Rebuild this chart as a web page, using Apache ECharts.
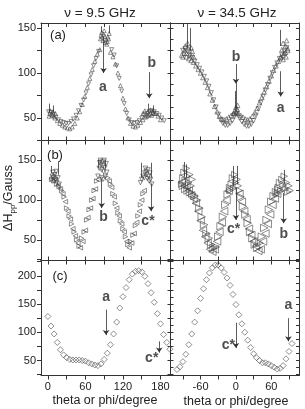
<!DOCTYPE html>
<html>
<head>
<meta charset="utf-8">
<script src="https://cdn.jsdelivr.net/npm/echarts@6/dist/echarts.min.js"></script>
<style>
html, body { margin: 0; padding: 0; background: #fff; }
#main { width: 305px; height: 409px; }
</style>
</head>
<body>
<div id="main"></div>
<script>
// tick positions / labels
const leftTicks = [0, 30, 60, 90, 120, 150, 180]
const leftLabels = [0, 60, 120, 180]
const rightTicks = [-90, -60, -30, 0, 30, 60, 90]
const rightLabels = [-60, 0, 60]
const yTicksAB = [25, 50, 75, 100, 125, 150, 175]
const yTicksC = [25, 50, 75, 100, 125, 150, 175, 200, 225]
const yLabelsAB = [50, 100, 150]
const yLabelsC = [50, 100, 150, 200]
const yTicksRight = [25, 37.5, 50, 62.5, 75, 87.5, 100, 112.5, 125, 137.5, 150, 162.5, 175, 187.5, 200, 212.5, 225]

// (a) 9.5 GHz
const a9Up = [[3,55],[7,53],[11,50],[15,47],[19,44],[23,42],[27,40],[31,39],[35,38],[39,40],[43,44],[47,50],[51,57],[55,65],[59,74],[63,84],[67,94],[71,104],[75,113],[79,121],[83,126],[100,123],[104,118],[108,110],[112,100],[116,86],[120,72],[124,60],[128,50],[132,44],[136,41],[140,40],[144,42],[148,45],[152,48],[156,51],[160,53],[164,55],[168,56],[172,55],[176,52],[180,48]]
const a9Down = [[1,57],[5,56],[9,54],[13,51],[17,48],[21,46],[25,45],[29,44],[33,44],[37,46],[41,49],[45,53],[49,58],[53,64],[57,70],[61,78],[65,88],[69,98],[73,108],[77,116],[81,124],[102,126],[106,120],[110,108],[114,94],[118,80],[122,66],[126,55],[130,48],[134,45],[138,44],[142,45],[146,47],[150,50],[154,53],[158,55],[162,57],[166,58],[170,57],[174,55],[178,53],[182,50],[186,47]]
const a9Cluster = [[84,138],[85,142],[86,145],[87,140],[88,136],[89,143],[90,147],[91,141],[92,134],[93,137],[94,132],[95,135],[96,140],[97,138],[98,144],[2,52],[4,58],[6,54],[8,57],[10,52],[12,55],[152,55],[155,58],[158,52],[160,57],[162,54],[164,59],[166,53],[168,58],[170,55]]
const a9Spikes = [[2,56,66],[9,56,64],[86,145,152],[98,144,153],[161,58,66],[168,57,64]]
const a9Arrows = [[89,140,100],[162,101,72]]
const a9Notes = [[88,84,'a'],[166,111,'b']]

// (a) 34.5 GHz
const a34Up = [[-92,120],[-88,122],[-84,118],[-80,116],[-76,114],[-72,112],[-68,108],[-64,104],[-60,100],[-56,95],[-52,90],[-48,84],[-44,77],[-40,70],[-36,63],[-32,57],[-28,52],[-24,49],[-20,48],[-16,49],[-12,51],[-8,53],[-4,55],[0,57],[4,55],[8,53],[12,51],[16,49],[20,48],[24,49],[28,52],[32,56],[36,61],[40,67],[44,73],[48,79],[52,85],[56,91],[60,97],[64,103],[68,108],[72,113],[76,117],[80,120],[84,123],[88,125]]
const a34Down = [[-90,125],[-86,127],[-82,124],[-78,120],[-74,117],[-70,113],[-66,109],[-62,105],[-58,101],[-54,96],[-50,91],[-46,85],[-42,78],[-38,70],[-34,62],[-30,54],[-26,48],[-22,44],[-18,42],[-14,42],[-10,44],[-6,47],[-2,52],[2,55],[6,50],[10,46],[14,43],[18,41],[22,41],[26,43],[30,47],[34,53],[38,60],[42,67],[46,74],[50,81],[54,87],[58,94],[62,100],[66,106],[70,111],[74,116],[78,120],[82,124],[86,128]]
const a34Cluster = [[-90,118],[-88,125],[-86,130],[-84,122],[-82,133],[-80,127],[-78,120],[-76,128],[-74,124],[-72,118],[-2,58],[0,62],[1,56],[2,60],[3,64],[-4,55],[76,118],[78,126],[80,133],[82,122],[84,130],[86,136],[88,127],[85,118],[80,115]]
const a34Spikes = [[-82,128,155],[-78,125,150],[1,60,88],[-2,60,80],[76,130,148]]
const a34Arrows = [[0,110,88],[76,102,74]]
const a34Notes = [[0,118,'b'],[76,61,'a']]

// (b) 9.5 GHz
const b9Right = [[6,126],[10,124],[14,120],[18,117],[22,112],[26,104],[30,90],[34,80],[38,70],[42,60],[46,50],[50,42],[54,52],[58,60],[62,75],[66,88],[70,100],[74,112],[78,124],[96,128],[100,120],[104,108],[108,96],[112,84],[116,74],[120,64],[124,54],[128,44],[132,48],[136,56],[140,68],[144,80],[148,94],[152,108]]
const b9Left = [[8,130],[12,126],[16,118],[20,114],[24,108],[28,98],[32,86],[36,76],[40,64],[44,55],[48,46],[52,40],[56,48],[60,62],[64,78],[68,90],[72,102],[76,114],[80,126],[98,124],[102,116],[106,104],[110,90],[114,80],[118,70],[122,60],[126,48],[130,40],[134,46],[138,58],[142,72],[146,86],[150,100],[154,112]]
const b9Cluster = [[6,125],[7,130],[8,135],[9,128],[10,124],[11,132],[12,126],[13,136],[14,122],[16,128],[18,120],[80,130],[82,140],[83,147],[84,150],[85,145],[86,138],[87,148],[88,143],[89,136],[90,150],[91,141],[92,130],[93,146],[94,135],[88,126],[86,128],[148,122],[150,126],[152,130],[154,128],[155,134],[156,140],[157,136],[158,132],[159,127],[160,138],[161,130],[162,124],[163,134],[164,126],[166,120]]
const b9Spikes = [[6,134,143],[17,132,149],[80,140,151],[91,140,151],[149,128,147],[165,128,147]]
const b9Arrows = [[86,126,90],[165,121,86]]
const b9Notes = [[89,79,'b'],[160,73,'c*']]

// (b) 34.5 GHz
const b34Right = [[-90,118],[-86,114],[-82,112],[-78,110],[-74,108],[-70,105],[-66,100],[-62,90],[-58,79],[-54,69],[-50,58],[-46,52],[-42,44],[-38,40],[-34,41],[-30,54],[-26,67],[-22,79],[-18,94],[-14,107],[-10,115],[8,104],[12,92],[16,82],[20,71],[24,60],[28,52],[32,44],[36,40],[40,46],[44,54],[48,65],[52,75],[56,88],[60,98],[64,105],[68,110],[72,113]]
const b34Left = [[-92,122],[-88,118],[-84,116],[-80,112],[-76,106],[-72,102],[-68,96],[-64,86],[-60,74],[-56,62],[-52,54],[-48,46],[-44,38],[-40,35],[-36,38],[-32,48],[-28,60],[-24,72],[-20,86],[-16,100],[-12,112],[6,108],[10,98],[14,86],[18,76],[22,64],[26,56],[30,48],[34,42],[38,36],[42,38],[46,48],[50,58],[54,70],[58,82],[62,94],[66,102],[70,108]]
const b34Cluster = [[-92,120],[-90,128],[-88,135],[-86,125],[-84,140],[-82,130],[-80,122],[-78,132],[-76,118],[-74,126],[-10,112],[-8,120],[-6,128],[-4,115],[-2,132],[0,122],[2,126],[4,118],[6,112],[70,108],[72,116],[74,122],[76,112],[78,126],[80,118],[82,130],[84,114],[86,122],[88,110],[90,118],[92,112]]
const b34Spikes = [[-88,130,148],[-84,128,145],[-4,118,143],[2,120,143],[82,120,138]]
const b34Arrows = [[0,115,75],[81,109,71]]
const b34Notes = [[-4,64,'c*'],[81,57,'b']]

// (c) 9.5 GHz
const c9 = [[0,128],[5,111],[10,97],[15,82],[20,69],[25,60],[30,55],[35,52],[40,51],[45,51],[50,51],[55,50],[60,49],[65,46],[70,44],[75,42],[80,41],[85,44],[90,52],[95,63],[100,78],[105,97],[110,118],[115,143],[120,163],[125,179],[130,193],[135,203],[140,208],[145,209],[150,207],[155,199],[160,186],[165,170],[170,153],[175,133],[180,115],[185,96],[190,82],[195,70]]
const c9Arrows = [[93,140,95],[178,84,64]]
const c9Notes = [[93,162,'a'],[166,55,'c*']]

// (c) 34.5 GHz
const c34 = [[-100,34],[-95,39],[-90,48],[-85,61],[-80,78],[-75,97],[-70,118],[-65,138],[-60,160],[-55,177],[-50,193],[-45,205],[-40,214],[-35,219],[-30,219],[-25,214],[-20,206],[-15,196],[-10,183],[-5,167],[0,149],[5,131],[10,115],[15,100],[20,86],[25,73],[30,62],[35,55],[40,50],[45,46],[50,46],[55,44],[60,41],[65,38],[70,35],[75,36],[80,41],[85,53],[90,66],[95,80]]
const c34Arrows = [[0,117,72],[89,125,84]]
const c34Notes = [[-13,78,'c*'],[89,148,'a']]

const font = 'Liberation Sans, Arial, sans-serif'
const ink = '#333'

const cols = [{ left: 41, right: 134.5, range: [-11, 196], ticks: leftTicks, labels: leftLabels },
	{ left: 170.5, right: 6, range: [-111, 107], ticks: rightTicks, labels: rightLabels }]
const rows = [{ top: 23, bottom: 268.5, range: [25, 155.6], ticks: yTicksAB, labels: yLabelsAB },
	{ top: 140.5, bottom: 148.5, range: [24, 175], ticks: yTicksAB, labels: yLabelsAB },
	{ top: 260.5, bottom: 33.5, range: [23.5, 227], ticks: yTicksC, labels: yLabelsC }]

const panels = [
	{ r: 0, c: 0, sets: [[a9Up, 'triangle', 0, 4], [a9Down, 'triangle', 180, 4], [a9Cluster, 'triangle', 0, 4]], spikes: a9Spikes, arrows: a9Arrows, notes: a9Notes },
	{ r: 0, c: 1, sets: [[a34Up, 'triangle', 0, 4.5], [a34Down, 'triangle', 180, 4.5], [a34Cluster, 'triangle', 0, 4.5]], spikes: a34Spikes, arrows: a34Arrows, notes: a34Notes },
	{ r: 1, c: 0, sets: [[b9Right, 'triangle', -90, 4.5], [b9Left, 'triangle', 90, 4.5], [b9Cluster, 'triangle', 180, 4.5]], spikes: b9Spikes, arrows: b9Arrows, notes: b9Notes },
	{ r: 1, c: 1, sets: [[b34Right, 'triangle', -90, 7.5], [b34Left, 'triangle', 90, 7.5], [b34Cluster, 'triangle', -90, 6.5]], spikes: b34Spikes, arrows: b34Arrows, notes: b34Notes },
	{ r: 2, c: 0, sets: [[c9, 'diamond', 0, 6]], spikes: [], arrows: c9Arrows, notes: c9Notes },
	{ r: 2, c: 1, sets: [[c34, 'diamond', 0, 6]], spikes: [], arrows: c34Arrows, notes: c34Notes }
]

const grid = [], xAxis = [], yAxis = [], series = []
panels.forEach(function(p, i) {
	const col = cols[p.c], row = rows[p.r]
	grid.push({ left: col.left, right: col.right, top: row.top, bottom: row.bottom })
	const lastRow = p.r === 2
	// bottom and top x axes
	xAxis.push({
		type: 'value', gridIndex: i, position: 'bottom', min: col.range[0], max: col.range[1],
		axisLine: { show: true, onZero: false, lineStyle: { color: ink, width: 1 } },
		axisTick: { show: true, inside: !lastRow, length: 4, customValues: col.ticks, lineStyle: { color: ink } },
		axisLabel: { show: lastRow, customValues: col.labels, color: '#222', fontSize: 11, fontFamily: font, margin: 6 },
		splitLine: { show: false }
	})
	xAxis.push({
		type: 'value', gridIndex: i, position: 'top', min: col.range[0], max: col.range[1],
		axisLine: { show: true, onZero: false, lineStyle: { color: ink, width: 1 } },
		axisTick: { show: true, inside: true, length: 4, customValues: col.ticks, lineStyle: { color: ink } },
		axisLabel: { show: false },
		splitLine: { show: false }
	})
	yAxis.push({
		type: 'value', gridIndex: i, position: 'left', min: row.range[0], max: row.range[1],
		axisLine: { show: true, onZero: false, lineStyle: { color: ink, width: 1 } },
		axisTick: { show: true, inside: p.c === 1, length: p.c === 1 ? 3 : 4, customValues: p.c === 1 ? yTicksRight : row.ticks, lineStyle: { color: ink } },
		axisLabel: { show: p.c === 0, customValues: row.labels, color: '#222', fontSize: 11, fontFamily: font, margin: 5 },
		splitLine: { show: false }
	})
	yAxis.push({
		type: 'value', gridIndex: i, position: 'right', min: row.range[0], max: row.range[1],
		axisLine: { show: true, onZero: false, lineStyle: { color: ink, width: 1 } },
		axisTick: { show: true, inside: true, length: 3, customValues: p.c === 1 ? yTicksRight : row.ticks, lineStyle: { color: ink } },
		axisLabel: { show: false },
		splitLine: { show: false }
	})
	p.sets.forEach(function(s) {
		series.push({
			type: 'scatter', xAxisIndex: 2 * i, yAxisIndex: 2 * i,
			data: s[0], symbol: s[1], symbolRotate: s[2], symbolSize: s[3],
			itemStyle: { color: 'rgba(255,255,255,0)', borderColor: '#444', borderWidth: 0.75 },
			silent: true
		})
	})
	// arrows, spikes and letters
	const lines = []
	p.spikes.forEach(function(s) {
		lines.push([{ coord: [s[0], s[1]], symbol: 'none' }, { coord: [s[0], s[2]], symbol: 'none' }])
	})
	p.arrows.forEach(function(s) {
		lines.push([{ coord: [s[0], s[1]], symbol: 'none' }, { coord: [s[0], s[2]], symbol: 'arrow', symbolSize: 5 }])
	})
	series.push({
		type: 'scatter', xAxisIndex: 2 * i, yAxisIndex: 2 * i, symbolSize: 0, silent: true,
		data: p.notes.map(function(n) { return { value: [n[0], n[1]], name: n[2] } }),
		label: { show: true, position: 'inside', formatter: '{b}', fontSize: 14, fontWeight: 'bold', color: '#222', fontFamily: font },
		markLine: {
			silent: true, animation: false, symbol: ['none', 'none'],
			label: { show: false },
			lineStyle: { color: '#333', width: 0.8, type: 'solid' },
			data: lines
		}
	})
})

const txt = function(x, y, text, size) {
	return { type: 'text', x: x, y: y, style: { text: text, font: size + 'px ' + font, fill: '#222', align: 'center', verticalAlign: 'middle' } }
}

var myChart = echarts.init(document.getElementById('main'))
myChart.setOption({
	animation: false,
	backgroundColor: '#fff',
	grid: grid,
	xAxis: xAxis,
	yAxis: yAxis,
	series: series,
	graphic: [
		txt(100, 13, 'ν = 9.5 GHz', 13.5),
		txt(237, 13, 'ν = 34.5 GHz', 13.5),
		txt(58, 35, '(a)', 13),
		txt(55, 155, '(b)', 13),
		txt(60, 276, '(c)', 13),
		txt(105, 401, 'theta or phi/degree', 12.5),
		txt(236, 402, 'theta or phi/degree', 12.5),
		{
			type: 'text', x: 9, y: 198, rotation: Math.PI / 2,
			style: {
				text: '{a|ΔH}{s|pp}{a|/Gauss}', align: 'center', verticalAlign: 'middle',
				rich: {
					a: { fontSize: 12.5, fontFamily: font, fill: '#222', lineHeight: 16 },
					s: { fontSize: 8, fontFamily: font, fill: '#222', lineHeight: 16, verticalAlign: 'bottom', padding: [5, 0, 0, 0] }
				}
			}
		}
	]
})
</script>
</body>
</html>
